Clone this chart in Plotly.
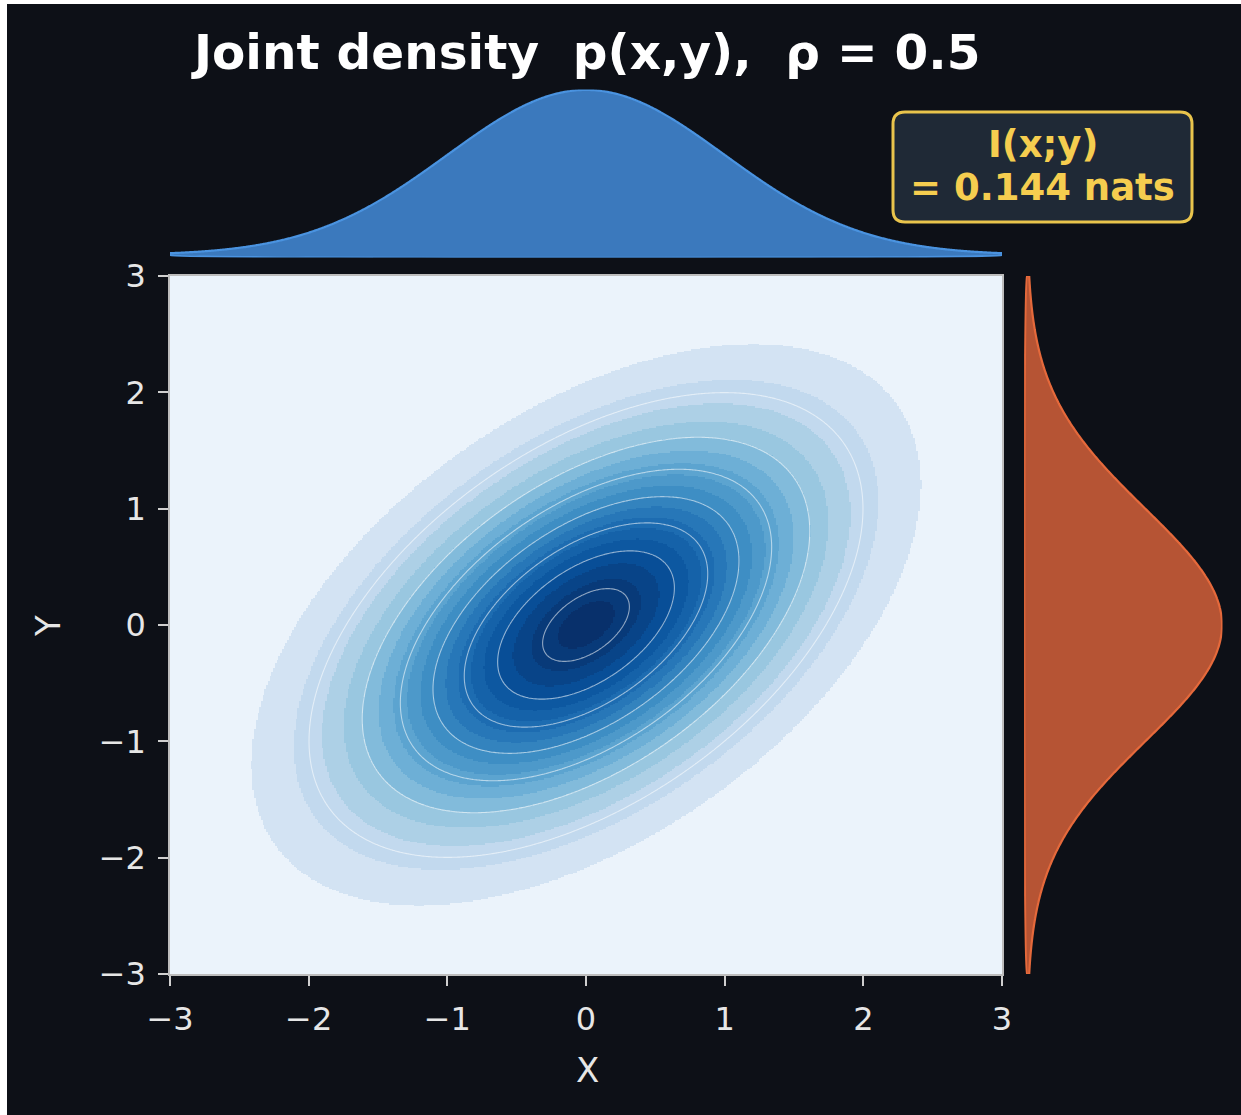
import numpy as np
import plotly.graph_objects as go

# ---- parameters of the bivariate normal ----
RHO = 0.5
MUTUAL_INFO_NATS = 0.144
AXIS_TICKS = [-3, -2, -1, 0, 1, 2, 3]
AXIS_LIMITS = [-3.0, 3.0]
GRID_POINTS = 481

# filled-contour band edges and white contour-line levels (density units)
FILL_LEVELS = [0.00, 0.01, 0.02, 0.03, 0.04, 0.05, 0.06, 0.07, 0.08, 0.09,
               0.10, 0.11, 0.12, 0.13, 0.14, 0.15, 0.16, 0.17, 0.18, 0.19]
LINE_LEVELS = [0.025, 0.05, 0.075, 0.10, 0.125, 0.15, 0.175]

# ---- styling ----
BG = "#0d1017"
TEXT = "#e6e6e6"
GOLD = "#f5cd4f"
FONT = "DejaVu Sans"
W, H = 1241, 1115

BLUES = ["#f7fbff", "#deebf7", "#c6dbef", "#9ecae1", "#6baed6",
         "#4292c6", "#2171b5", "#08519c", "#08306b"]
# position along the Blues ramp for the lowest band, and ramp curvature
RAMP_START = 0.06
RAMP_GAMMA = 0.70


def blues(t):
    t = min(max(t, 0.0), 1.0)
    pos = t * (len(BLUES) - 1)
    i = min(int(pos), len(BLUES) - 2)
    f = pos - i
    a = [int(BLUES[i][k:k + 2], 16) for k in (1, 3, 5)]
    b = [int(BLUES[i + 1][k:k + 2], 16) for k in (1, 3, 5)]
    c = [round(a[j] + (b[j] - a[j]) * f) for j in range(3)]
    return "rgb({},{},{})".format(*c)


# ---- density on a grid ----
g = np.linspace(AXIS_LIMITS[0], AXIS_LIMITS[1], GRID_POINTS)
GX, GY = np.meshgrid(g, g)
s2 = 1.0 - RHO ** 2
Z = np.exp(-(GX ** 2 - 2 * RHO * GX * GY + GY ** 2) / (2 * s2)) / (2 * np.pi * np.sqrt(s2))
marginal = np.exp(-g ** 2 / 2) / np.sqrt(2 * np.pi)

levels = np.array(FILL_LEVELS)
n_bands = len(levels) - 1
band = np.clip(np.digitize(Z, levels) - 1, 0, n_bands - 1)
band_colors = [blues(RAMP_START + (1 - RAMP_START) * (i / (n_bands - 1)) ** RAMP_GAMMA)
               for i in range(n_bands)]
colorscale = []
for i, c in enumerate(band_colors):
    colorscale.append([i / n_bands, c])
    colorscale.append([(i + 1) / n_bands, c])

fig = go.Figure()

# filled density bands
fig.add_trace(go.Heatmap(
    x=g, y=g, z=band, zmin=-0.5, zmax=n_bands - 0.5,
    colorscale=colorscale, showscale=False, zsmooth=False,
    hoverinfo="skip", xaxis="x", yaxis="y"))

# white iso-density lines
fig.add_trace(go.Contour(
    x=g, y=g, z=Z,
    contours=dict(start=LINE_LEVELS[0], end=LINE_LEVELS[-1],
                  size=LINE_LEVELS[1] - LINE_LEVELS[0], coloring="none"),
    line=dict(color="rgba(255,255,255,0.55)", width=1.1),
    showscale=False, hoverinfo="skip", xaxis="x", yaxis="y"))

# top marginal p(x)
fig.add_trace(go.Scatter(
    x=np.concatenate([g, [g[-1], g[0], g[0]]]),
    y=np.concatenate([marginal, [0, 0, marginal[0]]]),
    fill="toself", fillcolor="#3b79bd",
    line=dict(color="#4a93e0", width=2.2, shape="spline", smoothing=0.3),
    mode="lines", hoverinfo="skip", xaxis="x2", yaxis="y2"))

# right marginal p(y)
fig.add_trace(go.Scatter(
    x=np.concatenate([marginal, [0, 0, marginal[0]]]),
    y=np.concatenate([g, [g[-1], g[0], g[0]]]),
    fill="toself", fillcolor="#b65434",
    line=dict(color="#e5693b", width=2.2, shape="spline", smoothing=0.3),
    mode="lines", hoverinfo="skip", xaxis="x3", yaxis="y3"))


def px_x(p):
    return p / W


def px_y(p):
    return 1 - p / H


main_x = [px_x(170), px_x(1002)]
main_y = [px_y(974), px_y(276)]

axis_common = dict(
    range=AXIS_LIMITS, tickvals=AXIS_TICKS, ticks="outside", ticklen=10,
    tickwidth=1.5, tickcolor="#cfcfcf", showgrid=False, zeroline=False,
    showline=True, linecolor="#bdbdbd", linewidth=1.5, mirror=True,
    automargin=False,
    tickfont=dict(family=FONT, size=32, color=TEXT), ticklabelstandoff=6)

hidden = dict(visible=False, automargin=False)

fig.update_layout(
    width=W, height=H,
    margin=dict(l=0, r=0, t=0, b=0, pad=0, autoexpand=False),
    paper_bgcolor=BG, plot_bgcolor=BG, showlegend=False,
    xaxis=dict(domain=main_x, anchor="y", **axis_common),
    yaxis=dict(domain=main_y, anchor="x", **axis_common),
    xaxis2=dict(domain=main_x, anchor="y2", range=AXIS_LIMITS, **hidden),
    yaxis2=dict(domain=[px_y(257.5), px_y(89.5)], anchor="x2",
                range=[-0.006, 0.40], **hidden),
    xaxis3=dict(domain=[px_x(1024.1), px_x(1222.5)], anchor="y3",
                range=[-0.006, 0.40], **hidden),
    yaxis3=dict(domain=main_y, anchor="x3", range=AXIS_LIMITS, **hidden),
)

# rounded info box
bx0, bx1, by0, by1, r = 893, 1192, 112, 222, 12
path = (f"M {px_x(bx0 + r)} {px_y(by0)} L {px_x(bx1 - r)} {px_y(by0)} "
        f"Q {px_x(bx1)} {px_y(by0)} {px_x(bx1)} {px_y(by0 + r)} "
        f"L {px_x(bx1)} {px_y(by1 - r)} "
        f"Q {px_x(bx1)} {px_y(by1)} {px_x(bx1 - r)} {px_y(by1)} "
        f"L {px_x(bx0 + r)} {px_y(by1)} "
        f"Q {px_x(bx0)} {px_y(by1)} {px_x(bx0)} {px_y(by1 - r)} "
        f"L {px_x(bx0)} {px_y(by0 + r)} "
        f"Q {px_x(bx0)} {px_y(by0)} {px_x(bx0 + r)} {px_y(by0)} Z")

fig.update_layout(shapes=[
    dict(type="path", path=path, xref="paper", yref="paper",
         fillcolor="#1f2936", line=dict(color="#e9c44c", width=3)),
    dict(type="rect", xref="paper", yref="paper", x0=0, x1=px_x(7), y0=0, y1=1,
         fillcolor="white", line=dict(width=0)),
    dict(type="rect", xref="paper", yref="paper", x0=0, x1=1, y0=px_y(4), y1=1,
         fillcolor="white", line=dict(width=0)),
])


def label(text, x, y, size, color, bold=False, angle=0):
    return dict(text=text, x=px_x(x), y=px_y(y), xref="paper", yref="paper",
                showarrow=False, xanchor="center", yanchor="middle", textangle=angle,
                font=dict(family=FONT, size=size, color=color,
                          weight="bold" if bold else "normal"))


fig.update_layout(annotations=[
    label("Joint density  p(x,y),  ρ = 0.5", 585, 52, 48.5, "white", bold=True),
    label("I(x;y)", (bx0 + bx1) / 2, 145, 37, GOLD, bold=True),
    label(f"= {MUTUAL_INFO_NATS:.3f} nats", (bx0 + bx1) / 2, 188, 37, GOLD, bold=True),
    label("X", 587, 1070, 34, TEXT),
    label("Y", 48, 626, 34, TEXT, angle=-90),
])

fig.write_html("out.html")
